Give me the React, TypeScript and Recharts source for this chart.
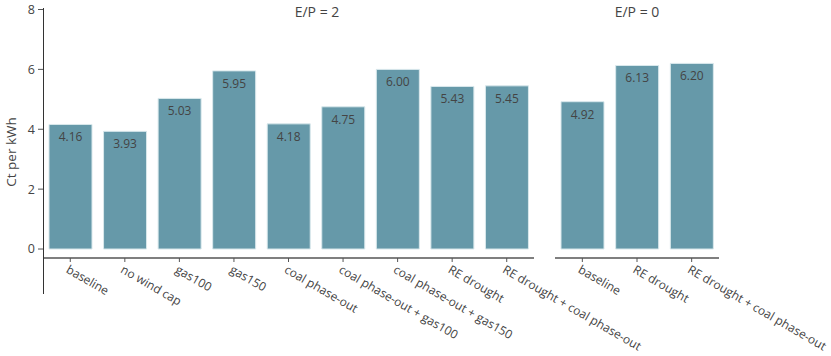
import React from "react";
import { BarChart, Bar, XAxis, YAxis, LabelList } from "recharts";

const scenariosEP2 = [
  "baseline",
  "no wind cap",
  "gas100",
  "gas150",
  "coal phase-out",
  "coal phase-out + gas100",
  "coal phase-out + gas150",
  "RE drought",
  "RE drought + coal phase-out",
];
const costsEP2 = [4.16, 3.93, 5.03, 5.95, 4.18, 4.75, 6.0, 5.43, 5.45];

const scenariosEP0 = ["baseline", "RE drought", "RE drought + coal phase-out"];
const costsEP0 = [4.92, 6.13, 6.2];

const yTicks = [0, 2, 4, 6, 8];

const BAR_COLOR = "#6699a9";
const TEXT_COLOR = "#444";
const AXIS_COLOR = "#555";

const dataEP2 = scenariosEP2.map((name, i) => ({ name, value: costsEP2[i] }));
const dataEP0 = scenariosEP0.map((name, i) => ({ name, value: costsEP0[i] }));

function AngledTick(props: any) {
  const { x, y, payload } = props;
  return (
    <text
      transform={`translate(${Number(x) - 5},${Number(y) + 8}) rotate(30)`}
      textAnchor="start"
      fill={TEXT_COLOR}
      fontSize={12}
    >
      {payload.value}
    </text>
  );
}

function BarValue(props: any) {
  const { x, y, width, value } = props;
  return (
    <text
      x={Number(x) + Number(width) / 2}
      y={Number(y) + 17}
      textAnchor="middle"
      fill={TEXT_COLOR}
      fontSize={12}
    >
      {Number(value).toFixed(2)}
    </text>
  );
}

function Panel({
  data,
  width,
  marginRight,
  showY,
}: {
  data: { name: string; value: number }[];
  width: number;
  marginRight: number;
  showY: boolean;
}) {
  return (
    <BarChart
      width={width}
      height={356}
      data={data}
      margin={{ top: 9.5, right: marginRight, left: 0, bottom: 0 }}
      barSize={43}
    >
      <XAxis
        dataKey="name"
        height={98}
        interval={0}
        tickSize={4}
        tickMargin={2}
        tick={<AngledTick />}
        axisLine={{ stroke: AXIS_COLOR, strokeWidth: 1.5 }}
        tickLine={{ stroke: AXIS_COLOR }}
      />
      <YAxis
        hide={!showY}
        width={43}
        domain={[-0.3, 8]}
        ticks={yTicks}
        axisLine={false}
        tickSize={5}
        tickMargin={3}
        tickLine={{ stroke: AXIS_COLOR }}
        tick={{ fill: TEXT_COLOR, fontSize: 12.5 }}
      />
      <Bar
        dataKey="value"
        fill={BAR_COLOR}
        stroke="#d9e8ec"
        strokeWidth={1}
        isAnimationActive={false}
      >
        <LabelList dataKey="value" content={<BarValue />} />
      </Bar>
    </BarChart>
  );
}

export default function App() {
  return (
    <div
      style={{
        position: "absolute",
        left: 0,
        top: 0,
        width: 831,
        height: 356,
        background: "#fff",
        fontFamily: "'Open Sans', sans-serif",
      }}
    >
      <div style={{ position: "absolute", left: 0, top: 0 }}>
        <Panel data={dataEP2} width={831} marginRight={297} showY />
      </div>
      <div style={{ position: "absolute", left: 555, top: 0 }}>
        <Panel data={dataEP0} width={276} marginRight={112} showY={false} />
      </div>

      {/* long y axis line, runs past the offset x axis */}
      <div
        style={{
          position: "absolute",
          left: 42.5,
          top: 8,
          width: 1,
          height: 286,
          background: "#333",
        }}
      />

      <svg
        width={831}
        height={356}
        style={{ position: "absolute", left: 0, top: 0, pointerEvents: "none" }}
      >
        <text
          transform="translate(16,152) rotate(-90)"
          textAnchor="middle"
          fill={TEXT_COLOR}
          fontSize={13.5}
        >
          Ct per kWh
        </text>
        <text x={317} y={17.3} textAnchor="middle" fill={TEXT_COLOR} fontSize={14}>
          E/P = 2
        </text>
        <text x={637} y={17.3} textAnchor="middle" fill={TEXT_COLOR} fontSize={14}>
          E/P = 0
        </text>
      </svg>
    </div>
  );
}
